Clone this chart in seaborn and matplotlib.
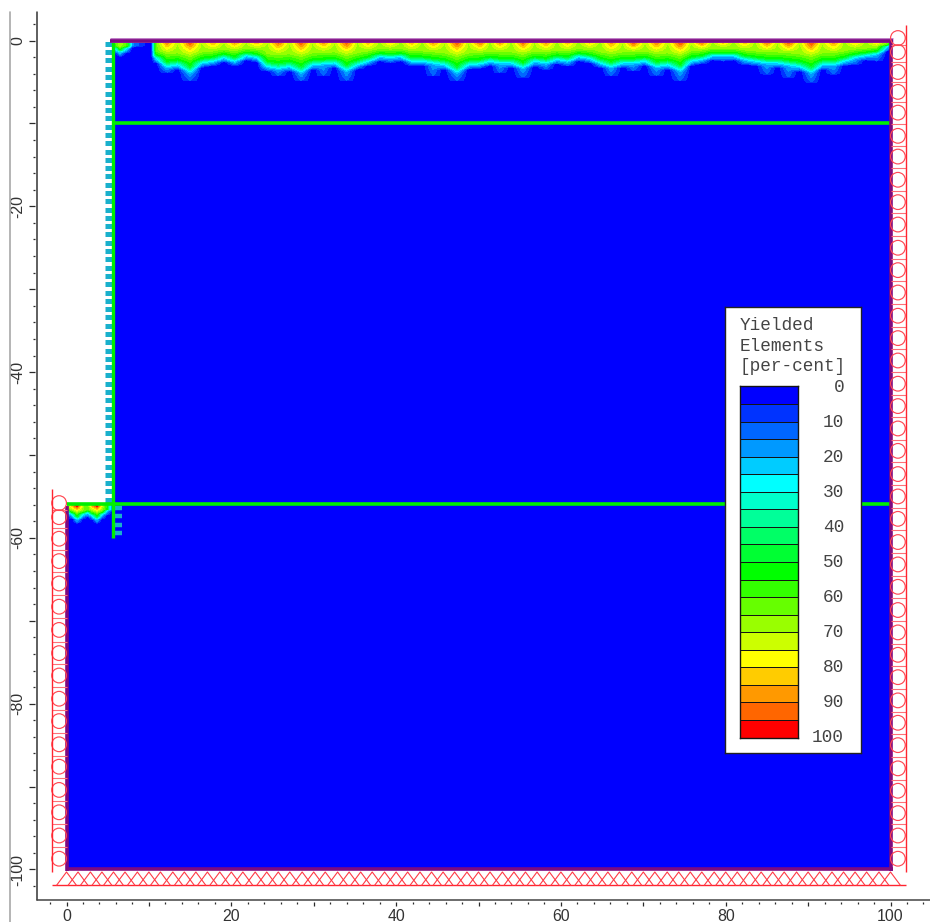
import numpy as np
import matplotlib
matplotlib.use("Agg")
import matplotlib.pyplot as plt
from matplotlib.colors import ListedColormap
from matplotlib.lines import Line2D
import seaborn as sns

# ---------- data ----------
x_major = [0, 10, 20, 30, 40, 50, 60, 70, 80, 90, 100]
x_major_labels = ["0", "", "20", "", "40", "", "60", "", "80", "", "100"]
x_minor = [-2, 2, 4, 6, 8, 12, 14, 16, 18, 22, 24, 26, 28, 32, 34, 36, 38, 42, 44, 46, 48, 52, 54, 56, 58,
           62, 64, 66, 68, 72, 74, 76, 78, 82, 84, 86, 88, 92, 94, 96, 98, 102, 104]
y_major = [0, -10, -20, -30, -40, -50, -60, -70, -80, -90, -100]
y_major_labels = ["0", "", "-20", "", "-40", "", "-60", "", "-80", "", "-100"]
y_minor = [2, -2, -4, -6, -8, -12, -14, -16, -18, -22, -24, -26, -28, -32, -34, -36, -38, -42, -44, -46, -48,
           -52, -54, -56, -58, -62, -64, -66, -68, -72, -74, -76, -78, -82, -84, -86, -88, -92, -94, -96, -98, -102]

domain_x = [5.7, 100, 100, 0, 0, 5.7]
domain_y = [0, 0, -100, -100, -56, -56]

# upper yield zone: column position, surface value, depth of outer edge, depth of cyan band
col_x = [5.9, 6.5, 7.3, 8.0, 9.0, 10.3,
         10.9, 12.2, 13.5, 15.0, 16.4, 17.8, 19.1, 20.4, 21.8, 23.1, 24.4, 25.7, 27.1, 28.5,
         29.85, 31.2, 32.55, 34.0, 35.3, 36.6, 38.0, 39.3, 40.6, 41.9, 43.2, 44.5, 45.9, 47.4, 48.8, 50.2,
         51.4, 52.6, 54.0, 55.4, 56.8, 58.2, 59.5, 60.8, 62.1, 63.5, 64.8, 66.1,
         67.5, 68.8, 70.2, 71.6, 73.0, 74.5, 75.8, 77.1, 78.4, 79.7, 81.0, 82.3, 83.6, 85.0, 86.3, 87.6,
         89.0, 90.4, 91.7, 93.1, 94.4, 95.7, 97.0, 98.3, 99.6, 100.0]
col_peak = [58, 72, 58, 16, 8, 0,
            62, 94, 70, 98, 70, 90, 70, 92, 70, 90, 70, 96, 70, 98,
            70, 92, 70, 98, 70, 88, 68, 86, 68, 88, 68, 92, 70, 98, 70, 96,
            68, 92, 68, 96, 70, 92, 68, 88, 68, 86, 68, 92,
            70, 100, 70, 94, 70, 100, 70, 98, 68, 88, 68, 88, 68, 96, 70, 100,
            70, 100, 70, 92, 68, 86, 68, 86, 62, 50]
col_outer = [1.1, 1.5, 1.2, 0.5, 0.2, 0.0,
             2.0, 3.8, 3.0, 4.8, 2.6, 2.4, 1.8, 2.6, 1.6, 2.2, 3.4, 4.2, 2.8, 4.8,
             2.8, 4.2, 2.8, 4.8, 3.2, 2.8, 1.8, 2.6, 1.7, 2.8, 2.4, 4.2, 3.0, 4.8, 3.2, 3.2,
             2.2, 3.8, 2.4, 4.4, 3.0, 3.4, 2.0, 3.0, 1.8, 2.4, 2.6, 4.2,
             2.6, 3.6, 2.4, 4.2, 3.0, 4.8, 2.6, 2.2, 1.6, 2.4, 1.6, 2.8, 2.8, 4.0, 2.8, 4.4,
             3.0, 5.0, 2.8, 4.0, 2.2, 2.8, 1.6, 2.4, 1.0, 0.5]
col_cyan = [0.8, 1.2, 0.8, 0.2, 0.1, 0.0,
            1.9, 2.8, 2.6, 3.4, 2.4, 2.2, 1.8, 2.2, 1.6, 1.8, 2.8, 3.0, 2.8, 3.4,
            2.6, 2.5, 2.4, 3.2, 2.6, 2.2, 1.7, 1.8, 1.7, 2.2, 2.2, 2.4, 2.6, 3.4, 2.6, 2.5,
            2.2, 2.4, 2.4, 2.9, 2.2, 2.4, 2.0, 2.2, 1.7, 1.9, 2.4, 2.8,
            2.4, 2.4, 2.2, 2.8, 2.6, 3.2, 2.2, 2.0, 1.6, 1.6, 1.6, 2.0, 2.2, 2.4, 2.4, 2.6,
            2.8, 3.4, 2.6, 2.6, 2.2, 1.8, 1.6, 1.4, 0.6, 0.3]

# lower yield zone next to the wall toe
low_x = [0.1, 0.7, 1.3, 2.0, 2.6, 3.1, 3.7, 4.3, 4.9, 5.5]
low_peak = [62, 84, 100, 66, 60, 84, 100, 72, 52, 10]
low_outer = [0.8, 1.2, 1.9, 1.3, 1.0, 1.3, 1.9, 1.2, 0.8, 0.1]
low_cyan = [0.6, 0.9, 1.4, 0.9, 0.7, 1.0, 1.4, 0.9, 0.5, 0.05]

band_levels = [0, 5, 10, 15, 20, 25, 30, 35, 40, 45, 50, 55, 60, 65, 70, 75, 80, 85, 90, 95, 100]
band_colors = ["#0000ff", "#0033ff", "#0066ff", "#0099ff", "#00ccff", "#00ffff", "#00ffcc", "#00ff99",
               "#00ff66", "#00ff33", "#00ff00", "#33ff00", "#66ff00", "#99ff00", "#ccff00", "#ffff00",
               "#ffcc00", "#ff9900", "#ff6600", "#ff0000"]
legend_titles = ["Yielded", "Elements", "[per-cent]"]
legend_labels = ["0", "10", "20", "30", "40", "50", "60", "70", "80", "90", "100"]

# structural supports
left_circle_y = [-55.8, -57.5, -60.1, -62.8, -65.5, -68.3, -71.1, -73.9, -76.6, -79.4, -82.1, -84.9, -87.6,
                 -90.4, -93.1, -95.9, -98.7]
right_circle_y = [0.3, -1.4, -3.8, -6.2, -8.7, -11.5, -14.0, -16.8, -19.5, -22.2, -25.0, -27.7, -30.4, -33.2,
                  -35.9, -38.6, -41.4, -44.1, -46.8, -49.5, -52.3, -55.0, -57.7, -60.5, -63.2, -65.9, -68.7,
                  -71.4, -74.1, -76.8, -79.6, -82.3, -85.0, -87.8, -90.5, -93.2, -95.9, -98.7]
roller_x = [0.0, 1.4, 2.9, 4.3, 5.7, 7.1, 8.6, 10.0, 11.4, 12.9, 14.3, 15.7, 17.1, 18.6, 20.0, 21.4, 22.9, 24.3,
            25.7, 27.1, 28.6, 30.0, 31.4, 32.9, 34.3, 35.7, 37.1, 38.6, 40.0, 41.4, 42.9, 44.3, 45.7, 47.1, 48.6,
            50.0, 51.4, 52.9, 54.3, 55.7, 57.1, 58.6, 60.0, 61.4, 62.9, 64.3, 65.7, 67.1, 68.6, 70.0, 71.4, 72.9,
            74.3, 75.7, 77.1, 78.6, 80.0, 81.4, 82.9, 84.3, 85.7, 87.1, 88.6, 90.0, 91.4, 92.9, 94.3, 95.7, 97.1,
            98.6, 100.0]
wall_anchor_y = [-0.45, -1.4, -2.4, -3.4, -4.4, -5.4, -6.4, -7.4, -8.4, -9.4, -10.4, -11.4, -12.4, -13.4, -14.4,
                 -15.4, -16.4, -17.4, -18.4, -19.4, -20.4, -21.4, -22.4, -23.4, -24.4, -25.4, -26.4, -27.4, -28.4,
                 -29.4, -30.4, -31.4, -32.4, -33.4, -34.4, -35.4, -36.4, -37.4, -38.4, -39.4, -40.4, -41.4, -42.4,
                 -43.4, -44.4, -45.4, -46.4, -47.4, -48.4, -49.4, -50.4, -51.4, -52.4, -53.4, -54.4, -55.4]
toe_anchor_y = [-56.4, -57.4, -58.4, -59.4]

# ---------- helpers ----------
W, H = 930, 922


def fig_rect(l, t, r, b):
    return [l / W, 1 - b / H, (r - l) / W, (b - t) / H]


def zone_grid(peaks, outers, cyans, depths):
    rows = []
    for p, o, c in zip(peaks, outers, cyans):
        c = 1.1 * c
        o = max(o, c + 0.5)
        v = np.interp(depths, [0, 0.5 * c, 0.82 * c, c, c + 0.2, o, o + 0.15],
                      [p, 66, 50, 27, 20, 10, 0])
        rows.append(np.minimum(v, p))
    return np.array(rows).T


sns.set_theme(style="white")
plt.rcParams["font.family"] = ["Liberation Sans", "DejaVu Sans"]

fig = plt.figure(figsize=(W / 100, H / 100), dpi=100, facecolor="white")
ax = fig.add_axes(fig_rect(35, 12, 930, 902))
ax.set_xlim((35 - 66.5) / 8.24, (930 - 66.5) / 8.24)
ax.set_ylim((40.5 - 902) / 8.29, (40.5 - 12) / 8.29)
for s in ax.spines.values():
    s.set_visible(False)

ax.fill(domain_x, domain_y, color="#0000ff", lw=0, zorder=1)

depths = np.linspace(0, 7, 141)
ax.contourf(col_x, -depths, zone_grid(col_peak, col_outer, col_cyan, depths),
            levels=band_levels, colors=band_colors, zorder=2)
ax.contourf(low_x, -56.1 - depths, zone_grid(low_peak, low_outer, low_cyan, depths),
            levels=band_levels, colors=band_colors, zorder=2)


def seg(xs, ys, color, lw, z, cap="butt"):
    sns.lineplot(x=xs, y=ys, sort=False, estimator=None, color=color, lw=lw, ax=ax, zorder=z,
                 legend=False, solid_capstyle=cap)


# wall anchors
teal = "#19b0cc"
ax.hlines(wall_anchor_y, 4.7, 5.7, color=teal, lw=3.6, zorder=3)
ax.hlines(toe_anchor_y, 5.7, 6.7, color=teal, lw=3.2, zorder=3)

# lime structural lines
lime = "#00ee00"
seg([5.68, 5.68], [0, -60], lime, 2.4, 5)
seg([5.7, 100], [-10, -10], lime, 2.6, 5)
seg([0, 100], [-55.95, -55.95], lime, 2.6, 5)

# purple boundary
purple = "#7d0a80"
seg([5.3, 100.3], [0.05, 0.05], "#c080c8", 3.6, 6)
seg([5.3, 100.3], [0.0, 0.0], purple, 2.6, 6)
seg([100.1, 100.1], [0, -100.2], purple, 2.6, 6)
seg([0.1, 0.1], [-56.2, -100.2], purple, 2.6, 6)
seg([-0.1, 100.3], [-100.0, -100.0], purple, 2.6, 6)

# red supports
red = "#ff2530"
ring = "#ff4852"
sns.scatterplot(x=[-0.9] * len(left_circle_y), y=left_circle_y, marker="o", s=112, facecolors="none",
                edgecolors=ring, linewidth=0.85, ax=ax, zorder=7, legend=False)
sns.scatterplot(x=[100.9] * len(right_circle_y), y=right_circle_y, marker="o", s=112, facecolors="none",
                edgecolors=ring, linewidth=0.85, ax=ax, zorder=7, legend=False)
seg([-1.8, -1.8], [-54.1, -100.3], red, 1.0, 7)
seg([101.9, 101.9], [1.9, -100.3], red, 1.0, 7)
seg([-1.8, 101.9], [-101.9, -101.9], red, 1.0, 7)
ax.hlines(np.add(left_circle_y[1:], left_circle_y[:-1]) / 2, -1.8, 0, color="#ff7078", lw=0.8, zorder=6)
ax.hlines(np.add(right_circle_y[1:], right_circle_y[:-1]) / 2, 100, 101.9, color="#ff7078", lw=0.8, zorder=6)
for rx in roller_x:
    ax.plot([rx - 1.2, rx, rx + 1.2], [-101.9, -100.3, -101.9], color="#ff3a45", lw=0.8, zorder=7)

# ticks and labels
ink = "#2a2a2a"
ax.set_xticks(x_major, x_major_labels)
ax.set_xticks(x_minor, minor=True)
ax.set_yticks(y_major, y_major_labels)
ax.set_yticks(y_minor, minor=True)
ax.tick_params(axis="x", which="major", direction="out", bottom=True, length=3.2, width=0.9, color=ink, pad=1.5,
               labelsize=11.4, labelcolor="#333333")
ax.tick_params(axis="x", which="minor", direction="out", bottom=True, length=1.6, width=0.9, color=ink)
ax.tick_params(axis="y", which="major", direction="out", left=True, length=4.2, width=0.9, color=ink, pad=2.5,
               labelsize=11.4, labelcolor="#333333")
ax.tick_params(axis="y", which="minor", direction="out", left=True, length=1.6, width=0.9, color=ink)
for lab in ax.get_yticklabels():
    lab.set_rotation(90)
    lab.set_va("center")

# frame lines sit slightly clear of the ticks
fig.add_artist(Line2D([37 / W, 37 / W], [1 - 12 / H, 1 - 900 / H], color="#333333", lw=1.1))
fig.add_artist(Line2D([37 / W, 1], [1 - 900 / H, 1 - 900 / H], color="#444444", lw=1.1))
fig.add_artist(Line2D([10 / W, 10 / W], [1 - 12 / H, 0], color="#a8a8a8", lw=1.2))

# legend panel
box = fig.add_axes(fig_rect(725, 307, 861, 753), zorder=10)
box.set_xlim(725, 861)
box.set_ylim(753, 307)
box.set_xticks([])
box.set_yticks([])
box.set_facecolor("white")
for s in box.spines.values():
    s.set_visible(True)
    s.set_color("#222222")
    s.set_linewidth(1.0)
mono = "Liberation Mono"
for t, yy in zip(legend_titles, [325, 346, 366]):
    box.text(739.5, yy, t, family=mono, fontsize=12.8, color="#444444", va="center", ha="left")
for i, t in enumerate(legend_labels):
    box.text(844, 387 + 35 * i, t, family=mono, fontsize=12.8, color="#444444", va="center", ha="right")

cax = fig.add_axes(fig_rect(739.5, 386.5, 797.5, 737.5), zorder=11)
sns.heatmap(np.array(band_levels[:-1]).reshape(-1, 1), cmap=ListedColormap(band_colors), cbar=False,
            linewidths=0.6, linecolor="#151515", xticklabels=False, yticklabels=False, ax=cax, vmin=0, vmax=100)
for s in cax.spines.values():
    s.set_visible(True)
    s.set_color("#151515")
    s.set_linewidth(1.0)

fig.savefig("out.png", dpi=100)
